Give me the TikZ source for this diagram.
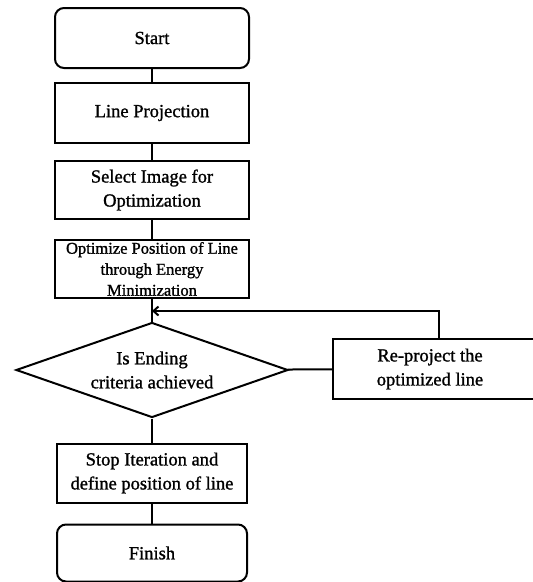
\documentclass[tikz,border=0pt]{standalone}
\usepackage{fontspec}
\setmainfont{Liberation Serif}[BoldFont=Liberation Serif, BoldFeatures={FakeBold=1.2}]
\usetikzlibrary{shapes.geometric,arrows.meta}

\begin{document}
\begin{tikzpicture}[x=1pt, y=-1pt, line width=2pt]
      \tikzset{
        term node/.style={draw,rounded corners=9pt,minimum width=194pt,minimum height=60pt,
          align=center,font=\fontsize{18.5}{24}\selectfont\bfseries},
        proc node/.style={draw,minimum width=194pt,minimum height=58pt,inner sep=2pt,
          align=center,font=\fontsize{18.5}{24}\selectfont\bfseries},
        test node/.style={draw,diamond,aspect=2.86,inner sep=0pt,minimum width=272pt,minimum height=95pt,
          align=center,font=\fontsize{18.5}{24}\selectfont\bfseries}
      }
      \useasboundingbox (0,0) rectangle (533,582);
      
      % Main column
      \node[term node] (start) at (152, 38) {Start};
      \node[proc node, minimum height=60pt] (proj) at (152, 113) {Line Projection};
      \node[proc node] (select) at (152, 190) {Select Image for\\Optimization};
      \node[proc node, font=\fontsize{16.5}{21}\selectfont\bfseries] (optim) at (152, 269)
        {Optimize Position of Line\\through Energy\\Minimization};
      
      % Decision
      \node[test node] (decide) at (152, 370) {Is Ending\\criteria achieved};
      
      % Re-project box runs past the right edge
      \node[proc node, minimum width=192pt, draw=none] (reproj) at (430, 369) {Re-project the\\optimized line};
      \draw (reproj.north west) rectangle ([xshift=30pt]reproj.south east);
      
      % End of flow
      \node[proc node, minimum width=190pt, minimum height=59pt] (stop) at (152, 473)
        {Stop Iteration and\\define position of line};
      \node[term node, minimum width=190pt, minimum height=57pt] (finish) at (152, 553) {Finish};
      
      % Links
      \draw (start) -- (proj);
      \draw (proj) -- (select);
      \draw (select) -- (optim);
      \draw (optim) -- (decide);
      \draw (decide) -- (stop);
      \draw (stop) -- (finish);
      \draw (decide) -- (reproj);
      
      % Loop back
      \coordinate (back) at (152, 311);
      \draw[-{Straight Barb[length=5pt,width=9pt]}] ([xshift=9pt]reproj.north) |- (back);
      
    \end{tikzpicture}
\end{document}
